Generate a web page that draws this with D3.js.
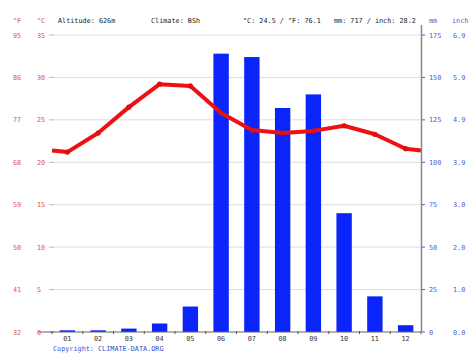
<!DOCTYPE html>
<html><head><meta charset="utf-8">
<script src="https://cdn.jsdelivr.net/npm/d3@7"></script>
<style>
html,body{margin:0;padding:0;background:#fff;}
svg{display:block;}
text{font-family:"DejaVu Sans Mono",monospace;font-size:6.8px;}
</style></head>
<body>
<svg id="c" width="474" height="355"></svg>
<script>
const months = ["01","02","03","04","05","06","07","08","09","10","11","12"];
const precipMM = [1,1,2,5,15,164,162,132,140,70,21,4];
const tempC = [21.2,23.45,26.5,29.2,29.0,25.8,23.8,23.45,23.7,24.3,23.3,21.6];
const tempTicksC = [0,5,10,15,20,25,30,35];
const tempTicksF = ["32","41","50","59","68","77","86","95"];
const precipTicksMM = [0,25,50,75,100,125,150,175];
const precipTicksIn = ["0.0","1.0","2.0","3.0","3.9","4.9","5.9","6.9"];
const header = ["Altitude: 626m","Climate: BSh","°C: 24.5 / °F: 76.1","mm: 717 / inch: 28.2"];

const svg = d3.select("#c");
const L = 52, R = 421, T = 35, B = 332;
const red = "#e65050", blue = "#4a5ed6";

const x = d3.scaleBand().domain(months).range([L,R]).paddingInner(0.5).paddingOuter(0.25);
const yT = d3.scaleLinear().domain([0,35]).range([B,T]);
const yP = d3.scaleLinear().domain([0,175]).range([B,T]);

// gridlines
svg.append("g").selectAll("line").data(tempTicksC.filter(d=>d>0)).join("line")
  .attr("x1",L).attr("x2",R).attr("y1",d=>yT(d)).attr("y2",d=>yT(d))
  .attr("stroke","#dedede").attr("stroke-width",1);
// left small ticks
svg.append("g").selectAll("line").data(tempTicksC).join("line")
  .attr("x1",L-3).attr("x2",L+2).attr("y1",d=>yT(d)).attr("y2",d=>yT(d))
  .attr("stroke","#bbb").attr("stroke-width",1);

// bars
svg.append("g").selectAll("rect").data(precipMM).join("rect")
  .attr("x",(d,i)=>x(months[i])).attr("width",x.bandwidth())
  .attr("y",d=>yP(d)).attr("height",d=>B-yP(d))
  .attr("fill","#0a24fa");

// temperature line, wrapping to edges
const edge = (tempC[0]+tempC[tempC.length-1])/2;
const pts = [[L,edge]].concat(tempC.map((t,i)=>[x(months[i])+x.bandwidth()/2,t])).concat([[R,edge]]);
const line = d3.line().x(d=>d[0]).y(d=>yT(d[1]));
svg.append("path").attr("d",line(pts)).attr("fill","none")
  .attr("stroke","#ee1111").attr("stroke-width",4).attr("stroke-linejoin","round");
svg.append("g").selectAll("circle").data(tempC).join("circle")
  .attr("cx",(d,i)=>x(months[i])+x.bandwidth()/2).attr("cy",d=>yT(d)).attr("r",2.6)
  .attr("fill","#dd0f0f");

// bottom axis
svg.append("line").attr("x1",L-14).attr("x2",R).attr("y1",B).attr("y2",B)
  .attr("stroke","#666").attr("stroke-width",1.2);
const bounds = months.map(m=>x(m)-x.step()*x.paddingInner()/2).concat([R]);
svg.append("g").selectAll("line").data(bounds).join("line")
  .attr("x1",d=>d).attr("x2",d=>d).attr("y1",B-1).attr("y2",B+2)
  .attr("stroke","#555").attr("stroke-width",1);
svg.append("g").selectAll("text").data(months).join("text")
  .attr("x",d=>x(d)+x.bandwidth()/2).attr("y",B+9).attr("text-anchor","middle")
  .attr("fill","#333").text(d=>d);

// right axis
svg.append("line").attr("x1",R+0.5).attr("x2",R+0.5).attr("y1",T-10).attr("y2",B)
  .attr("stroke","#888").attr("stroke-width",1.5);
svg.append("g").selectAll("line").data(precipTicksMM).join("line")
  .attr("x1",R+1).attr("x2",R+4).attr("y1",d=>yP(d)).attr("y2",d=>yP(d))
  .attr("stroke",blue).attr("stroke-width",1);
svg.append("g").selectAll("text").data(precipTicksMM).join("text")
  .attr("x",429).attr("y",d=>yP(d)+2.5).attr("fill",blue).text(d=>d);
svg.append("g").selectAll("text").data(precipTicksIn).join("text")
  .attr("x",453).attr("y",(d,i)=>yP(precipTicksMM[i])+2.5).attr("fill",blue).text(d=>d);

// left labels
svg.append("g").selectAll("text").data(tempTicksC).join("text")
  .attr("x",37).attr("y",d=>yT(d)+2.5).attr("fill",red).text(d=>d);
svg.append("g").selectAll("text").data(tempTicksF).join("text")
  .attr("x",13).attr("y",(d,i)=>yT(tempTicksC[i])+2.5).attr("fill",red).text(d=>d);

// header
svg.append("text").attr("x",13).attr("y",23).attr("fill",red).text("°F");
svg.append("text").attr("x",37).attr("y",23).attr("fill",red).text("°C");
const hx = [58,151,243,334];
header.forEach((h,i)=>svg.append("text").attr("x",hx[i]).attr("y",23).attr("fill","#222").text(h));
svg.append("text").attr("x",429).attr("y",23).attr("fill",blue).text("mm");
svg.append("text").attr("x",452).attr("y",23).attr("fill",blue).text("inch");

svg.append("text").attr("x",53).attr("y",351).attr("fill","#3050d0").text("Copyright: CLIMATE-DATA.ORG");
</script>
</body></html>
